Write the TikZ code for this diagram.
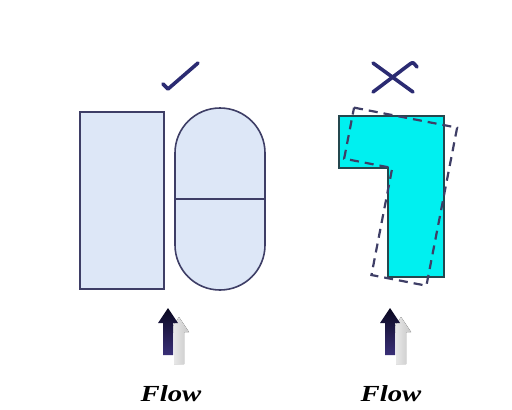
\documentclass[tikz,border=0pt]{standalone}
\usepackage{fontspec}
\setmainfont{Liberation Serif}
\usepackage{tikz}
\usetikzlibrary{arrows.meta,calc}
\definecolor{pale}{HTML}{DDE7F7}
\definecolor{edge}{HTML}{3E3E66}
\definecolor{tick}{HTML}{2B2B72}
\definecolor{aqua}{HTML}{00F0F0}
\definecolor{aquaedge}{HTML}{24474E}
\definecolor{arrowtop}{HTML}{0A0820}
\definecolor{arrowbot}{HTML}{3A3078}
\tikzset{
  part/.style    = {draw=edge, fill=pale, line width=1.6pt},
  badpart/.style = {draw=aquaedge, fill=aqua, line width=1.4pt},
  ghost/.style   = {draw=edge, dashed, dash pattern=on 9pt off 6pt, line width=2.2pt},
  verdict/.style = {draw=tick, line width=3.6pt, line cap=round, line join=round},
  flowlbl/.style = {font=\fontsize{23}{26}\selectfont\bfseries\itshape, xscale=1.25, inner sep=0pt},
}
\begin{document}
\begin{tikzpicture}[x=1pt,y=-1pt]
\useasboundingbox (0,0) rectangle (512,410);
% good orientation: bar and capsule
\draw[part] (80,112) rectangle (164,289);
\draw[part, rounded corners=45pt] (175,108) rectangle (265,290);
\draw[edge, line width=1.1pt] (175,199) -- (265,199);
% bad orientation: L-shaped part and its tilted outline
\draw[badpart] (339,116) -- (444,116) -- (444,277) -- (388,277)
  -- (388,168) -- (339,168) -- cycle;
\draw[ghost, rotate around={-11:(390,190)}] (339,116) -- (444,116)
  -- (444,277) -- (388,277) -- (388,168) -- (339,168) -- cycle;
% tick and cross
\draw[verdict] (163,84) -- (168,89) -- (198,63);
\draw[verdict] (373,63) -- (413,92);
\draw[verdict] (373,92) -- (410,64) .. controls (413,62) .. (417,67);
% flow arrows with their shadows
\foreach \ax in {168,390} {
  \fill[left color=black!5, right color=black!22, shift={(11,9)}]
    (\ax,308) -- (\ax+10,323) -- (\ax+5,323) -- (\ax+5,355)
    -- (\ax-5,355) -- (\ax-5,323) -- (\ax-10,323) -- cycle;
  \shade[top color=arrowtop, bottom color=arrowbot]
    (\ax,308) -- (\ax+10,323) -- (\ax+5,323) -- (\ax+5,355)
    -- (\ax-5,355) -- (\ax-5,323) -- (\ax-10,323) -- cycle;
}
\node[flowlbl, anchor=base] (flowa) at (171,401) {Flow};
\node[flowlbl, anchor=base] (flowb) at (391,401) {Flow};
\end{tikzpicture}
\end{document}
